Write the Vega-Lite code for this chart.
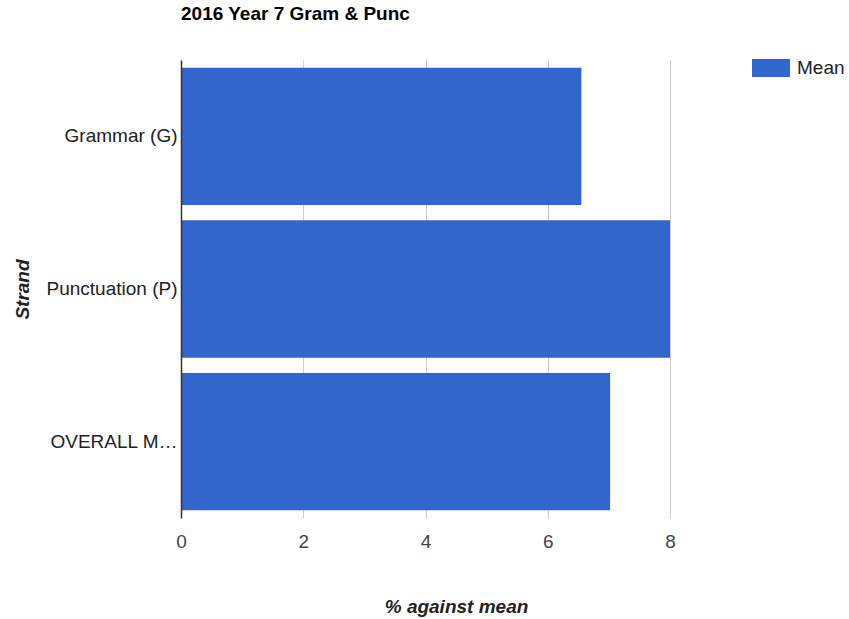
{
  "$schema": "https://vega.github.io/schema/vega-lite/v6.json",
  "autosize": "none",
  "width": 489,
  "height": 458,
  "padding": {"left": 181, "top": 60, "right": 179, "bottom": 101},
  "background": "white",
  "title": {
    "text": "2016 Year 7 Gram & Punc",
    "anchor": "start",
    "frame": "group",
    "font": "Liberation Sans",
    "fontSize": 19,
    "fontWeight": "bold",
    "color": "#000000",
    "offset": 25
  },
  "data": {
    "values": [
      {"strand": "Grammar (G)", "value": 6.55, "series": "Mean"},
      {"strand": "Punctuation (P)", "value": 8.0, "series": "Mean"},
      {"strand": "OVERALL MEAN", "value": 7.02, "series": "Mean"}
    ]
  },
  "mark": {"type": "bar", "color": "#3366cc"},
  "encoding": {
    "y": {
      "field": "strand",
      "type": "nominal",
      "sort": null,
      "scale": {"paddingInner": 0.1, "paddingOuter": 0.05},
      "axis": {
        "title": "Strand",
        "titleFont": "Liberation Sans",
        "titleFontSize": 19,
        "titleFontWeight": "bold",
        "titleFontStyle": "italic",
        "titleColor": "#222222",
        "titleAngle": -90,
        "titleX": -159,
        "titleY": 229,
        "titleBaseline": "middle",
        "titleAlign": "center",
        "labelFont": "Liberation Sans",
        "labelFontSize": 19,
        "labelColor": "#222222",
        "labelLimit": 135,
        "labelPadding": 4,
        "ticks": false,
        "domain": true,
        "domainColor": "#333333",
        "domainWidth": 1.5,
        "grid": false,
        "zindex": 1
      }
    },
    "x": {
      "field": "value",
      "type": "quantitative",
      "scale": {"domain": [0, 8], "nice": false},
      "axis": {
        "title": "% against mean",
        "titleFont": "Liberation Sans",
        "titleFontSize": 19,
        "titleFontWeight": "bold",
        "titleFontStyle": "italic",
        "titleColor": "#222222",
        "titleX": 275,
        "titleY": 88,
        "titleBaseline": "middle",
        "values": [0, 2, 4, 6, 8],
        "labelFont": "Liberation Sans",
        "labelFontSize": 19,
        "labelColor": "#444444",
        "labelPadding": 14,
        "labelFlush": false,
        "ticks": false,
        "domain": false,
        "grid": true,
        "gridColor": "#cccccc",
        "gridWidth": 1
      }
    },
    "fill": {
      "field": "series",
      "type": "nominal",
      "scale": {"range": ["#3366cc"]},
      "legend": {
        "title": null,
        "orient": "none",
        "legendX": 571,
        "legendY": -11,
        "padding": 0,
        "symbolType": "M-1,-0.47L1,-0.47L1,0.47L-1,0.47Z",
        "symbolSize": 1444,
        "symbolStrokeWidth": 0,
        "labelFont": "Liberation Sans",
        "labelFontSize": 19,
        "labelColor": "#222222",
        "labelOffset": 7
      }
    }
  },
  "config": {"view": {"stroke": null}}
}
